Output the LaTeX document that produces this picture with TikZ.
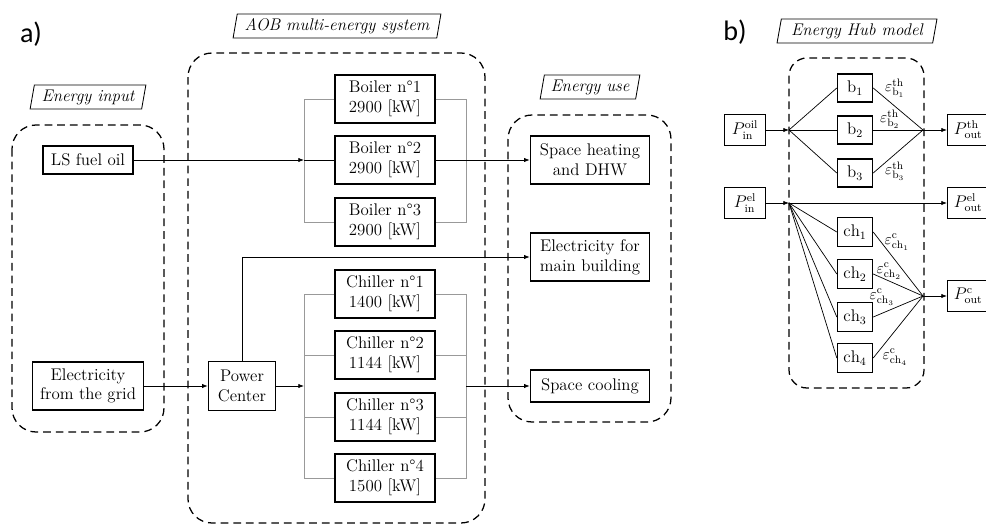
\documentclass[tikz,border=0pt]{standalone}
\usepackage{fontspec}
\newfontfamily\panelfont{Carlito}
\usetikzlibrary{arrows.meta,shapes.geometric}

\tikzset{
  box/.style={draw, line width=1pt, align=center, inner sep=0pt, font=\fontsize{12}{14}\selectfont},
  unit/.style={box, minimum width=2.5cm, minimum height=1.2cm},
  usebox/.style={box, minimum width=2.975cm, minimum height=1.2cm},
  pbox/.style={box, minimum width=1.025cm, minimum height=0.775cm},
  hubbox/.style={box, minimum width=0.875cm, minimum height=0.7cm},
  title/.style={draw, trapezium, trapezium left angle=78, trapezium right angle=102,
    trapezium stretches=true, inner sep=1pt, line width=0.6pt, minimum height=0.6cm,
    font=\fontsize{12}{14}\selectfont\itshape},
  group/.style={draw, dash pattern=on 5.5pt off 3.5pt, line width=0.9pt, rounded corners=0.6cm},
  bus/.style={draw=gray!80, line width=0.5pt},
  flow/.style={line width=0.5pt, -{Latex[length=4pt,width=3pt]}},
  eff/.style={font=\fontsize{11}{13}\selectfont, inner sep=0pt},
  panel/.style={font=\fontsize{20}{22}\panelfont}
}

\begin{document}
\begin{tikzpicture}[x=0.025cm, y=-0.025cm]
  \useasboundingbox (0,0) rectangle (986,525);

  % a) AOB multi-energy system
  \node[panel] (la) at (31,34) {a)};
  \draw[group] (12,125) rectangle (164,432);
  \draw[group] (188,53) rectangle (485,523);
  \draw[group] (508,115) rectangle (671,422);
  \node[title, minimum width=2.9cm] (intitle) at (88,97) {Energy input};
  \node[title, minimum width=5.2cm] (aobtitle) at (337,26) {AOB multi-energy system};
  \node[title, minimum width=2.5cm] (usetitle) at (590,87) {Energy use};

  \node[box, minimum width=2.25cm, minimum height=0.7cm] (oil) at (88,160) {LS fuel oil};
  \node[box, minimum width=2.775cm, minimum height=1.2cm] (grid) at (88,386) {Electricity\\from the grid};
  \node[box, minimum width=1.675cm, minimum height=1.225cm] (pc) at (242,386) {Power\\Center};

  \foreach \i/\y in {1/99,2/160,3/222}
    \node[unit] (boil\i) at (385,\y) {Boiler n°\i\\2900 [kW]};
  \foreach \i/\y/\p in {1/294/1400,2/355/1144,3/417/1144,4/478/1500}
    \node[unit] (chil\i) at (385,\y) {Chiller n°\i\\\p{} [kW]};

  \node[usebox] (heat) at (590,160) {Space heating\\and DHW};
  \node[usebox] (elec) at (590,257) {Electricity for\\main building};
  \node[usebox, minimum height=0.8cm] (cool) at (590,386) {Space cooling};

  \coordinate (bin) at (304,160);
  \coordinate (bout) at (466,160);
  \coordinate (cin) at (304,386);
  \coordinate (cout) at (466,386);

  \draw[bus] (boil1.west) -- (boil1.west -| bin) -- (boil3.west -| bin) -- (boil3.west);
  \draw[bus] (boil1.east) -- (boil1.east -| bout) -- (boil3.east -| bout) -- (boil3.east);
  \draw (bin) -- (boil2.west) (boil2.east) -- (bout);
  \draw[bus] (chil1.west) -- (chil1.west -| cin) -- (chil4.west -| cin) -- (chil4.west);
  \draw[bus] (chil1.east) -- (chil1.east -| cout) -- (chil4.east -| cout) -- (chil4.east);
  \foreach \i in {2,3}
    \draw[bus] (chil\i.west -| cin) -- (chil\i.west) (chil\i.east) -- (chil\i.east -| cout);

  \draw[flow] (oil.east) -- (bin);
  \draw[flow] (bout) -- (heat.west);
  \draw[flow] (grid.east) -- (pc.west);
  \draw[flow] (pc.east) -- (cin);
  \draw[flow] (pc.north) |- (elec.west);
  \draw[flow] (cout) -- (cool.west);

  % b) Energy Hub model
  \node[panel] (lb) at (735,32) {b)};
  \node[title, minimum width=4cm] (hubtitle) at (857,31) {Energy Hub model};
  \draw[group, rounded corners=0.45cm] (789,58) rectangle (924,388);

  \node[pbox] (pinoil) at (745,130) {$P^{\mathrm{oil}}_{\mathrm{in}}$};
  \node[pbox] (pinel) at (745,203) {$P^{\mathrm{el}}_{\mathrm{in}}$};
  \node[pbox, anchor=west] (poutth) at (947,130) {$P^{\mathrm{th}}_{\mathrm{out}}$};
  \node[pbox, anchor=west] (poutel) at (947,203) {$P^{\mathrm{el}}_{\mathrm{out}}$};
  \node[pbox, anchor=west] (poutc) at (947,296) {$P^{\mathrm{c}}_{\mathrm{out}}$};

  \foreach \i/\y in {1/88,2/130,3/173}
    \node[hubbox] (b\i) at (855,\y) {$\mathrm{b}_\i$};
  \foreach \i/\y in {1/232,2/274,3/317,4/358}
    \node[hubbox, minimum height=0.72cm] (ch\i) at (855,\y) {$\mathrm{ch}_\i$};

  \coordinate (joil) at (789,130);
  \coordinate (jth) at (923,130);
  \coordinate (jel) at (789,203);
  \coordinate (jc) at (923,296);

  \foreach \n in {b1,b2,b3}
    \draw[line width=0.5pt] (joil) -- (\n.west) (\n.east) -- (jth);
  \foreach \n in {ch1,ch2,ch3,ch4}
    \draw[line width=0.5pt] (jel) -- (\n.west) (\n.east) -- (jc);
  \draw[flow] (pinoil) -- (joil);
  \draw[flow] (jth) -- (poutth);
  \draw[flow] (pinel) -- (jel);
  \draw[flow] (jel) -- (poutel);
  \draw[flow] (jc) -- (poutc);

  \node[eff] (eb1) at (895,88) {$\varepsilon^{\mathrm{th}}_{\mathrm{b}_1}$};
  \node[eff] (eb2) at (890,119) {$\varepsilon^{\mathrm{th}}_{\mathrm{b}_2}$};
  \node[eff] (eb3) at (895,171) {$\varepsilon^{\mathrm{th}}_{\mathrm{b}_3}$};
  \node[eff] (ec1) at (897,242) {$\varepsilon^{\mathrm{c}}_{\mathrm{ch}_1}$};
  \node[eff] (ec2) at (889,271) {$\varepsilon^{\mathrm{c}}_{\mathrm{ch}_2}$};
  \node[eff] (ec3) at (882,297) {$\varepsilon^{\mathrm{c}}_{\mathrm{ch}_3}$};
  \node[eff] (ec4) at (895,357) {$\varepsilon^{\mathrm{c}}_{\mathrm{ch}_4}$};
\end{tikzpicture}
\end{document}
